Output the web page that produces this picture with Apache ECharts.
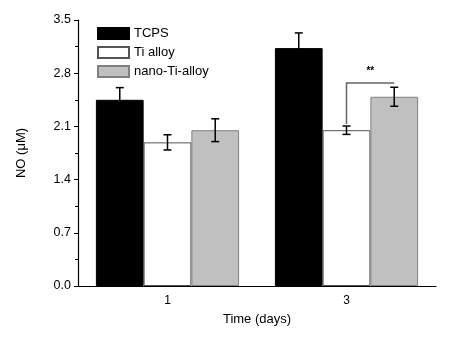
<!DOCTYPE html>
<html>
<head>
<meta charset="utf-8">
<script src="https://cdn.jsdelivr.net/npm/echarts@6/dist/echarts.min.js"></script>
<style>
  html, body { margin: 0; padding: 0; background: #fff; }
  #chart { width: 469px; height: 347px; }
</style>
</head>
<body>
<div id="chart"></div>
<script>
// categories and values
const days = ['1', '3']
const groups = ['TCPS', 'Ti alloy', 'nano-Ti-alloy']
const tcps = [2.45, 3.13]
const tiAlloy = [1.89, 2.05]
const nanoTi = [2.05, 2.49]
const tcpsErr = [0.16, 0.2]
const tiErr = [0.1, 0.055]
const nanoErr = [0.15, 0.125]
// significance bracket: [category, start value, top value]
const bracket = [[1, 2.13, 2.67]]
const sigLabel = '**'

const font = 'Liberation Sans, Arial, sans-serif'
const gapRatio = 0.2

const values = [tcps, tiAlloy, nanoTi]
const errs = [tcpsErr, tiErr, nanoErr]
const errData = []
values.forEach((vals, s) => {
  vals.forEach((v, c) => errData.push([c, v, errs[s][c], s]))
})

const chart = echarts.init(document.getElementById('chart'))

const barBase = {
  type: 'bar',
  barGap: '0%',
  barCategoryGap: '20%'
}

const option = {
  animation: false,
  textStyle: { fontFamily: font },
  grid: { left: 78, right: 33, top: 20, bottom: 61 },
  legend: {
    left: 92,
    top: 22,
    orient: 'vertical',
    icon: 'rect',
    itemWidth: 31,
    itemHeight: 11,
    itemGap: 6,
    textStyle: { fontFamily: font, fontSize: 13, color: '#000' },
    data: groups
  },
  xAxis: {
    type: 'category',
    data: days,
    name: 'Time (days)',
    nameLocation: 'middle',
    nameGap: 27,
    nameTextStyle: { fontFamily: font, fontSize: 13, color: '#000' },
    axisLine: { lineStyle: { color: '#000', width: 1.2 } },
    axisTick: { alignWithLabel: true, length: 4, lineStyle: { color: '#000' } },
    axisLabel: { fontFamily: font, fontSize: 12, color: '#000', margin: 9 },
    splitLine: { show: false }
  },
  yAxis: {
    type: 'value',
    min: 0,
    max: 3.5,
    interval: 0.7,
    name: 'NO (μM)',
    nameLocation: 'middle',
    nameGap: 50,
    nameTextStyle: { fontFamily: font, fontSize: 13, color: '#000' },
    axisLine: { show: true, lineStyle: { color: '#000', width: 1.2 } },
    axisTick: { show: true, length: 4, lineStyle: { color: '#000' } },
    minorTick: { show: true, splitNumber: 2, length: 3, lineStyle: { color: '#000' } },
    axisLabel: {
      fontFamily: font, fontSize: 12.5, color: '#000', margin: 7,
      formatter: (v) => v.toFixed(1)
    },
    splitLine: { show: false }
  },
  series: [
    {
      ...barBase,
      name: 'TCPS',
      data: tcps,
      itemStyle: { color: '#000', borderColor: '#000', borderWidth: 1 }
    },
    {
      ...barBase,
      name: 'Ti alloy',
      data: tiAlloy,
      itemStyle: { color: '#fff', borderColor: '#555', borderWidth: 1 }
    },
    {
      ...barBase,
      name: 'nano-Ti-alloy',
      data: nanoTi,
      itemStyle: { color: '#c0c0c0', borderColor: '#808080', borderWidth: 1 }
    },
    {
      type: 'custom',
      name: 'err',
      z: 10,
      data: errData,
      encode: { x: 0, y: 1 },
      renderItem: (params, api) => {
        const c = api.value(0)
        const v = api.value(1)
        const e = api.value(2)
        const s = api.value(3)
        const band = api.size([1, 0])[0]
        const bw = band * (1 - gapRatio) / 3
        const center = api.coord([c, v])[0] + (s - 1) * bw
        const top = api.coord([c, v + e])[1]
        const bot = api.coord([c, v - e])[1]
        const cap = 4
        const st = { stroke: '#000', lineWidth: 1.5 }
        return {
          type: 'group',
          children: [
            { type: 'line', shape: { x1: center, y1: top, x2: center, y2: bot }, style: st },
            { type: 'line', shape: { x1: center - cap, y1: top, x2: center + cap, y2: top }, style: st },
            { type: 'line', shape: { x1: center - cap, y1: bot, x2: center + cap, y2: bot }, style: st }
          ]
        }
      }
    },
    {
      type: 'custom',
      name: 'sig',
      z: 10,
      data: bracket,
      encode: { x: 0, y: 2 },
      renderItem: (params, api) => {
        const c = api.value(0)
        const y0 = api.coord([c, api.value(1)])[1]
        const y1 = api.coord([c, api.value(2)])[1]
        const band = api.size([1, 0])[0]
        const bw = band * (1 - gapRatio) / 3
        const cx = api.coord([c, 0])[0]
        const xa = cx
        const xb = cx + bw
        const st = { stroke: '#666', lineWidth: 1.5, fill: null }
        return {
          type: 'group',
          children: [
            { type: 'polyline', shape: { points: [[xa, y0], [xa, y1], [xb, y1]] }, style: st },
            {
              type: 'text',
              style: {
                x: (xa + xb) / 2, y: y1 - 12, text: sigLabel,
                fontFamily: font, fontSize: 10, fontWeight: 'bold',
                fill: '#000', align: 'center', verticalAlign: 'middle'
              }
            }
          ]
        }
      }
    }
  ]
}

chart.setOption(option)
</script>
</body>
</html>
